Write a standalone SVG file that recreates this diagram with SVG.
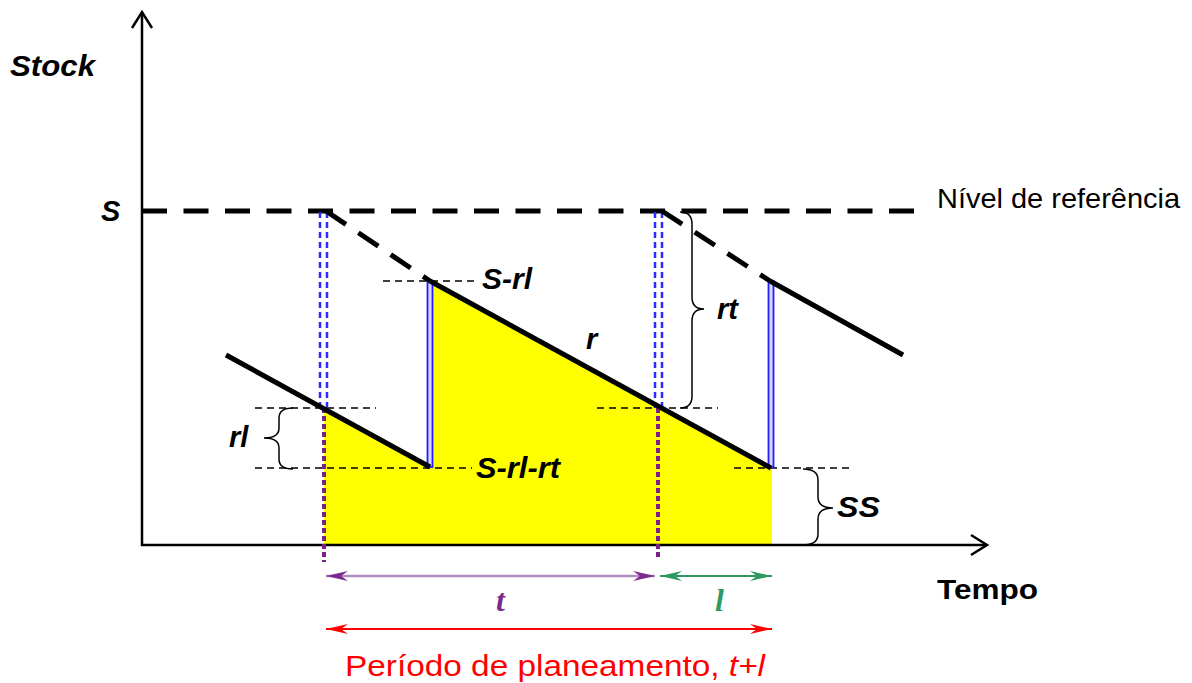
<svg xmlns="http://www.w3.org/2000/svg" width="1192" height="683" viewBox="0 0 1192 683">
<defs>
<style>
.lbl{font-family:"Liberation Sans",Arial,sans-serif;font-size:29px;font-weight:bold;font-style:italic;fill:#000}
.axis{stroke:#000;stroke-width:2.5;fill:none}
.saw{stroke:#000;stroke-width:5;fill:none}
.sawd{stroke:#000;stroke-width:5;fill:none;stroke-dasharray:24 15}
.thin{stroke:#000;stroke-width:1.5;fill:none;stroke-dasharray:7 5}
.brace{stroke:#000;stroke-width:1.5;fill:none}
.bluedot{stroke:#2b2bff;stroke-width:2.5;stroke-dasharray:6 4;fill:none}
.purpdot{stroke:#7a1f8c;stroke-width:4;stroke-dasharray:5 3;fill:none}
.bluebar{stroke:#2020ff;stroke-width:1.8;fill:#d8d8ff}
</style>
<marker id="ahp" viewBox="0 0 22 10" refX="22" refY="5" markerWidth="22" markerHeight="10" markerUnits="userSpaceOnUse" orient="auto-start-reverse">
<path d="M0,0 L22,5 L0,10 L7,5 z" fill="#7a2a8c"/>
</marker>
<marker id="ahg" viewBox="0 0 22 10" refX="22" refY="5" markerWidth="22" markerHeight="10" markerUnits="userSpaceOnUse" orient="auto-start-reverse">
<path d="M0,0 L22,5 L0,10 L7,5 z" fill="#2e9960"/>
</marker>
<marker id="ahr" viewBox="0 0 22 10" refX="22" refY="5" markerWidth="22" markerHeight="10" markerUnits="userSpaceOnUse" orient="auto-start-reverse">
<path d="M0,0 L22,5 L0,10 L7,5 z" fill="#ff0000"/>
</marker>
</defs>
<rect width="1192" height="683" fill="#fff"/>

<g id="yellow-area">
<path d="M324,408 L430,467 L430,281 L772,468 L772,545 L324,545 Z" fill="#ffff00"/>
</g>

<g id="axes">
<path class="axis" d="M142,546 L142,12"/>
<path class="axis" d="M132,28 L142,12 L152,28"/>
<path class="axis" d="M141,545 L987,545"/>
<path class="axis" d="M971,535 L987,545 L971,555"/>
</g>

<g id="reference-level">
<path d="M142,211 L916,211" stroke="#000" stroke-width="5" stroke-dasharray="25 16.5" fill="none"/>
</g>

<g id="guides">
<path class="thin" d="M255,408 L376,408"/>
<path class="thin" d="M255,468 L472,468"/>
<path class="thin" d="M383,281 L478,281"/>
<path class="thin" d="M597,408 L718,408"/>
<path class="thin" d="M734,468 L850,468"/>
</g>

<g id="order-markers">
<path class="bluedot" d="M320,212 L320,408"/>
<path class="bluedot" d="M327,212 L327,408"/>
<path class="purpdot" d="M324,408 L324,562"/>
<path class="bluedot" d="M655,212 L655,408"/>
<path class="bluedot" d="M662,212 L662,408"/>
<path class="purpdot" d="M658,408 L658,560"/>
<rect class="bluebar" x="427.5" y="281" width="5" height="186"/>
<rect class="bluebar" x="768.5" y="281" width="5" height="186"/>
</g>

<g id="stock-line">
<path class="saw" d="M226,355 L430,467"/>
<path class="sawd" d="M326,211 L430,281"/>
<path class="saw" d="M430,281 L771,468"/>
<path class="sawd" d="M662,211 L770,281"/>
<path class="saw" d="M770,281 L903,355"/>
</g>

<g id="braces">
<path class="brace" d="M680,212 Q692,212 692,224 L692,297 Q692,309 704,309 Q692,309 692,321 L692,396 Q692,408 680,408"/>
<path class="brace" d="M293,408 Q279,408 279,418 L279,428 Q279,438 264,438 Q279,438 279,448 L279,459 Q279,469 293,469"/>
<path class="brace" d="M803,469 Q818,469 818,480 L818,497 Q818,508 833,508 Q818,508 818,519 L818,534 Q818,545 803,545"/>
</g>

<g id="connectors">
<path d="M326,576 L655,576" stroke="#b48cc4" stroke-width="2.5" marker-start="url(#ahp)" marker-end="url(#ahp)"/>
<path d="M660,576 L772,576" stroke="#2e9960" stroke-width="2" marker-start="url(#ahg)" marker-end="url(#ahg)"/>
<path d="M326,629 L772,629" stroke="#ff0000" stroke-width="2" marker-start="url(#ahr)" marker-end="url(#ahr)"/>
</g>

<g id="labels">
<text class="lbl" x="10" y="76" font-size="28" textLength="85" lengthAdjust="spacingAndGlyphs">Stock</text>
<text class="lbl" x="101" y="221">S</text>
<text x="937" y="208" font-family="Liberation Sans,Arial,sans-serif" font-size="28" fill="#000" textLength="243" lengthAdjust="spacingAndGlyphs">Nível de referência</text>
<text class="lbl" x="482" y="289" textLength="50" lengthAdjust="spacingAndGlyphs">S-rl</text>
<text class="lbl" x="586" y="349">r</text>
<text class="lbl" x="717" y="319">rt</text>
<text class="lbl" x="229" y="447">rl</text>
<text class="lbl" x="476" y="478" textLength="84" lengthAdjust="spacingAndGlyphs">S-rl-rt</text>
<text class="lbl" x="837" y="517" textLength="43" lengthAdjust="spacingAndGlyphs">SS</text>
<text x="937" y="599" font-family="Liberation Sans,Arial,sans-serif" font-size="27" font-weight="bold" fill="#000" textLength="101" lengthAdjust="spacingAndGlyphs">Tempo</text>
<text x="496" y="611" font-family="Liberation Serif,Times New Roman,serif" font-size="32" font-style="italic" font-weight="bold" fill="#7a2a8c">t</text>
<text x="715" y="611" font-family="Liberation Serif,Times New Roman,serif" font-size="32" font-style="italic" font-weight="bold" fill="#2e9960">l</text>
<text x="345" y="676" font-family="Liberation Sans,Arial,sans-serif" font-size="30" fill="#ff0000" textLength="420" lengthAdjust="spacingAndGlyphs">Período de planeamento, <tspan font-style="italic">t+l</tspan></text>
</g>
</svg>
